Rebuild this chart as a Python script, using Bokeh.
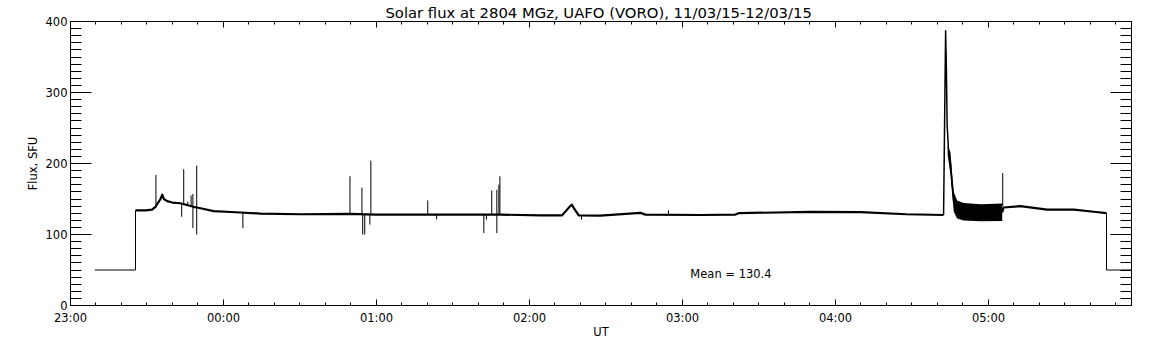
from bokeh.plotting import figure
from bokeh.models import (Range1d, LinearAxis, FixedTicker, Label, ColumnDataSource,
                          CustomLabelingPolicy)
from bokeh.embed import file_html
from bokeh.resources import INLINE

FONT = "DejaVu Sans"

# ---------------- data (time = minutes after 23:00 UT, flux in SFU) ----------------
x_tick_pos = [0, 60, 120, 180, 240, 300, 360]
x_tick_labels = ["23:00", "00:00", "01:00", "02:00", "03:00", "04:00", "05:00"]
y_tick_pos = [0, 100, 200, 300, 400]

lead_t = [9.5, 25.5, 25.5]
lead_v = [50, 50, 134]
tail_t = [406.3, 406.3, 416.1]
tail_v = [130, 50, 50]

quiet_a_t = [25.5, 29.4, 32.0, 33.3, 35.3, 36.0, 36.6, 37.9, 40.0, 43.1, 48.2, 51.0,
             56.1, 66.7, 74.5, 90.2, 109.4, 119.6, 141.2, 168.6, 184.3, 192.8, 194.5,
             196.0, 196.6, 197.6, 199.3, 207.8, 223.5, 225.5, 247.1, 260.8, 262.0,
             290.2, 309.8, 327.8, 342.4]
quiet_a_v = [134, 134, 135, 139, 150, 156, 150, 147, 145, 144, 139, 137,
             133, 131, 129.5, 128.5, 129, 128, 128, 128, 127, 127, 134,
             140, 142, 136, 127, 126.5, 130.5, 128, 127.5, 128, 130,
             132, 131.5, 128.5, 127.5]

flare_t = [342.4, 342.7, 343.2, 343.5, 343.8, 344.3, 345.1, 345.8, 346.4, 347.7]
flare_v = [127.5, 225, 387, 333, 254, 222, 200, 170, 146, 135]

band_t = [344.0, 345.1, 345.8, 346.4, 347.7, 350.3, 356.9, 365.4]
band_lo = [212, 184, 155, 132, 122.5, 119.7, 118.8, 119]
band_hi = [224, 216, 184, 160, 148, 144.5, 142.6, 143.5]

quiet_b_t = [365.4, 365.9, 372.5, 383.0, 393.5, 401.3, 406.3]
quiet_b_v = [131, 138, 140, 135, 135, 132, 130]

spike_t = [33.5, 43.6, 44.4, 46.0, 47.3, 48.0, 49.5, 67.6, 109.6, 114.3, 114.6,
           115.4, 117.4, 117.8, 140.1, 143.6, 162.1, 163.1, 165.2, 167.2, 168.0,
           168.4, 200.4, 234.5, 365.6]
spike_lo = [138, 125, 143, 141, 140, 109, 100, 109, 128.5, 128, 100,
            100, 114, 128, 128, 121.5, 102, 121, 128, 102, 128,
            128, 121, 127.5, 140]
spike_hi = [184, 144, 192, 146, 155, 157, 197, 131, 182, 166, 128,
            128, 128, 204, 148, 128, 128, 128, 162, 163, 170,
            182, 127, 134, 186.5]

mean_value = 130.4
title_text = "Solar flux at 2804 MGz, UAFO (VORO),  11/03/15-12/03/15"

# ---------------- figure ----------------
x_end = tail_t[-1]
p = figure(frame_width=1061, frame_height=284,
           x_range=Range1d(0, x_end), y_range=Range1d(0, 400),
           output_backend="svg", toolbar_location=None,
           min_border_left=70, min_border_right=21, min_border_top=20, min_border_bottom=41,
           background_fill_color="white", border_fill_color="white")
p.grid.visible = False
p.outline_line_color = "black"
p.outline_line_width = 1

xt = FixedTicker(ticks=x_tick_pos, minor_ticks=list(range(0, 420, 10)))
yt = FixedTicker(ticks=y_tick_pos, minor_ticks=list(range(0, 401, 10)))

bx = p.xaxis[0]
ly = p.yaxis[0]
bx.ticker = xt
ly.ticker = yt
bx.major_label_overrides = {t: s for t, s in zip(x_tick_pos, x_tick_labels)}

top = LinearAxis(ticker=xt)
right = LinearAxis(ticker=yt)
p.add_layout(top, "above")
p.add_layout(right, "right")

hide = CustomLabelingPolicy(code="""
for (const i of indices) { indices.unset(i) }
return indices
""")

for ax in (bx, top):
    ax.major_tick_in = 6
    ax.major_tick_out = 0
    ax.minor_tick_in = 3
    ax.minor_tick_out = 0
for ax in (ly, right):
    ax.major_tick_in = 21
    ax.major_tick_out = 0
    ax.minor_tick_in = 11
    ax.minor_tick_out = 0
for ax in (bx, ly, top, right):
    ax.axis_line_color = "black"
    ax.major_tick_line_color = "black"
    ax.minor_tick_line_color = "black"
    ax.major_label_text_font = FONT
    ax.major_label_text_font_size = "11.5px"
    ax.major_label_text_color = "black"
    ax.axis_label_text_font = FONT
    ax.axis_label_text_font_size = "11.5px"
    ax.axis_label_text_font_style = "normal"
    ax.axis_label_text_color = "black"
for ax in (top, right):
    ax.major_label_policy = hide
    ax.major_label_text_font_size = "0px"
    ax.major_label_standoff = 0

# title drawn as the label of the top axis (centred over the frame)
top.axis_label = title_text
top.axis_label_text_font_size = "14.8px"
top.axis_label_standoff = 1

bx.major_label_standoff = 5
bx.axis_label = "UT"
bx.axis_label_standoff = -3
ly.major_label_standoff = 3
ly.axis_label = "Flux, SFU"
ly.axis_label_standoff = 3

# ---------------- data marks ----------------
p.line(lead_t, lead_v, line_color="black", line_width=1)
p.line(tail_t, tail_v, line_color="black", line_width=1)
p.line(quiet_a_t, quiet_a_v, line_color="black", line_width=2.2, line_join="round")
p.line(quiet_b_t, quiet_b_v, line_color="black", line_width=2.2, line_join="round")
p.varea(x=band_t, y1=band_lo, y2=band_hi, fill_color="black")
p.line(flare_t, flare_v, line_color="black", line_width=1.5, line_join="round")
spk = ColumnDataSource(dict(t=spike_t, lo=spike_lo, hi=spike_hi))
p.segment(x0="t", y0="lo", x1="t", y1="hi", source=spk, line_color="black", line_width=1)

p.add_layout(Label(x=243.1, y=44, text=f"Mean =  {mean_value:.1f}", text_align="left",
                   text_baseline="middle", text_font=FONT, text_font_size="11.5px",
                   text_color="black"))

open("out.html", "w").write(file_html(p, INLINE))
